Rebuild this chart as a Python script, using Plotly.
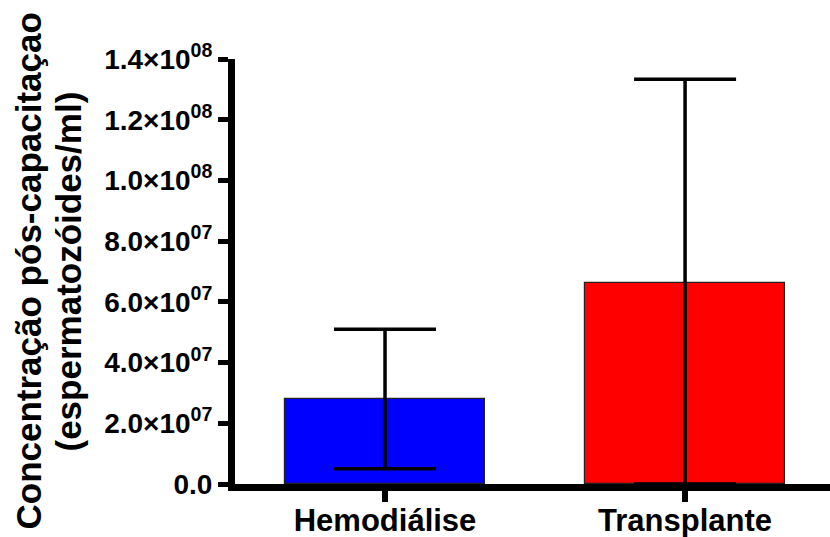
import plotly.graph_objects as go

categories = ["Hemodiálise", "Transplante"]
means = [2.8e7, 6.63e7]
err_plus = [2.3e7, 6.7e7]
err_minus = [2.3e7, 6.63e7]
bar_colors = ["#0000FF", "#FF0000"]
tick_vals = [0, 2e7, 4e7, 6e7, 8e7, 1.0e8, 1.2e8, 1.4e8]
tick_text = ["0.0", "2.0×10<sup>07</sup>", "4.0×10<sup>07</sup>", "6.0×10<sup>07</sup>",
             "8.0×10<sup>07</sup>", "1.0×10<sup>08</sup>", "1.2×10<sup>08</sup>", "1.4×10<sup>08</sup>"]
title_lines = ["Concentração pós-capacitaçao", "(espermatozóides/ml)"]

FONT = "Liberation Sans, Arial, sans-serif"

fig = go.Figure()
fig.add_trace(go.Bar(
    x=[0, 1], y=means, width=0.667,
    marker=dict(color=bar_colors, line=dict(color="#222222", width=1.2)),
    error_y=dict(type="data", symmetric=False, array=err_plus, arrayminus=err_minus,
                 color="black", thickness=3.5, width=51),
    showlegend=False,
))

fig.update_layout(
    template="none",
    width=830, height=537,
    margin=dict(l=235, r=0, t=59, b=53),
    paper_bgcolor="white", plot_bgcolor="white",
    font=dict(family=FONT, color="black"),
    bargap=0,
    xaxis=dict(range=[-0.5, 1.483], tickvals=[0, 1], ticktext=categories,
               automargin=False,
               showline=True, linecolor="black", linewidth=7,
               ticks="outside", ticklen=11, tickwidth=6, tickcolor="black",
               ticklabelstandoff=-8,
               showgrid=False, zeroline=False,
               tickfont=dict(family=FONT, size=31, color="black", weight="bold")),
    yaxis=dict(range=[0, 1.4e8], tickvals=tick_vals, ticktext=tick_text,
               automargin=False,
               showline=True, linecolor="black", linewidth=7,
               ticks="outside", ticklen=10, tickwidth=5, tickcolor="black",
               showgrid=False, zeroline=False,
               tickfont=dict(family=FONT, size=28, color="black", weight="bold")),
)

for txt, xs in zip(title_lines, [-207, -167]):
    fig.add_annotation(text=txt, xref="paper", yref="paper", x=0, y=0.5,
                       xanchor="center", yanchor="middle", xshift=xs,
                       textangle=-90, showarrow=False,
                       font=dict(family=FONT, size=35, color="black", weight="bold"))

fig.write_html("out.html")
